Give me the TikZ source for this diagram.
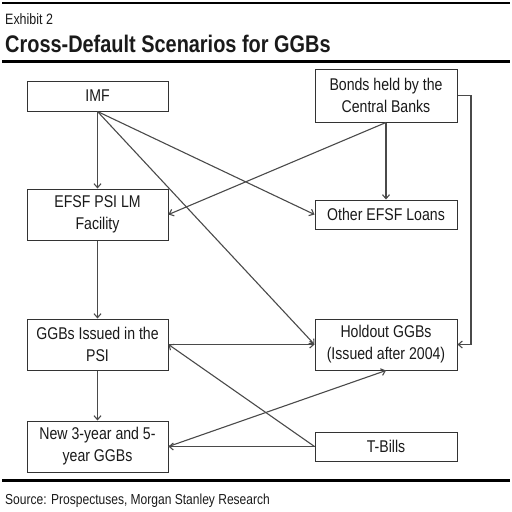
\documentclass[tikz,border=0pt]{standalone}
\usepackage{fontspec}
\setmainfont{Liberation Sans}[FakeStretch=0.83]
\usetikzlibrary{arrows.meta}
\definecolor{boxline}{HTML}{333333}
\definecolor{conn}{HTML}{4A4A4A}
\definecolor{txt}{HTML}{1A1A1A}
\begin{document}
\begin{tikzpicture}[x=1pt,y=-1pt,
  boxnode/.style={draw=boxline,line width=1pt,inner sep=0pt,minimum width=141pt,
    align=center,text=txt,font=\fontsize{17}{22}\selectfont},
  conline/.style={draw=conn,line width=1.1pt,-{Straight Barb[length=4pt,width=7pt]}},
  rulestyle/.style={line width=2.5pt,black},
  label/.style={anchor=base west,inner sep=0pt,text=txt}]
\useasboundingbox (0,0) rectangle (512,512);
\fill[white] (0,0) rectangle (512,512);
% rules
\draw[rulestyle] (2,3) -- (510,3);
\draw[rulestyle] (2,61.7) -- (510,61.7);
\draw[rulestyle] (2,480.7) -- (510,480.7);
% header / footer text
\node[label,font=\fontsize{15}{18}\selectfont] (exh) at (5,24) {Exhibit 2};
\node[label,font=\fontsize{24}{28}\bfseries] (title) at (5,52) {Cross-Default Scenarios for GGBs};
\node[label,font=\fontsize{14.5}{18}\selectfont] (src) at (5,504) {Source: Prospectuses, Morgan Stanley Research};
% boxes
\node[boxnode,minimum height=30pt] (imf) at (97.5,96) {IMF};
\node[boxnode,minimum height=53pt,minimum width=142pt] (bonds) at (386,95.5) {Bonds held by the\\Central Banks};
\node[boxnode,minimum height=51pt] (efsf) at (97.5,214.5) {EFSF PSI LM\\Facility};
\node[boxnode,minimum height=29pt,minimum width=142pt] (other) at (386,214.5) {Other EFSF Loans};
\node[boxnode,minimum height=51pt] (psi) at (97.5,344.5) {GGBs Issued in the\\PSI};
\node[boxnode,minimum height=51pt,minimum width=142pt] (hold) at (386,344.5) {Holdout GGBs\\(Issued after 2004)};
\node[boxnode,minimum height=51pt] (new) at (97.5,446.5) {New 3-year and 5-\\year GGBs};
\node[boxnode,minimum height=29pt,minimum width=142pt] (tbills) at (386,446.5) {T-Bills};
% connectors
\draw[conline] (imf.south) -- (efsf.north);
\draw[conline] (imf.south) -- (other.west);
\draw[conline] (imf.south) -- (hold.west);
\draw[conline] (bonds.south) -- (other.north);
\draw[conline] (bonds.south) -- (efsf.east);
\coordinate (bend) at (471,95.5);
\draw[conline] (bonds.east) -- (bend) |- (hold.east);
\draw[conline] (efsf.south) -- (psi.north);
\draw[conline] (psi.east) -- (hold.west);
\draw[conline] (tbills.west) -- (psi.east);
\draw[conline] (psi.south) -- (new.north);
\draw[conline] (tbills.west) -- (new.east);
\draw[conline] (new.east) -- (hold.south);
\end{tikzpicture}
\end{document}
